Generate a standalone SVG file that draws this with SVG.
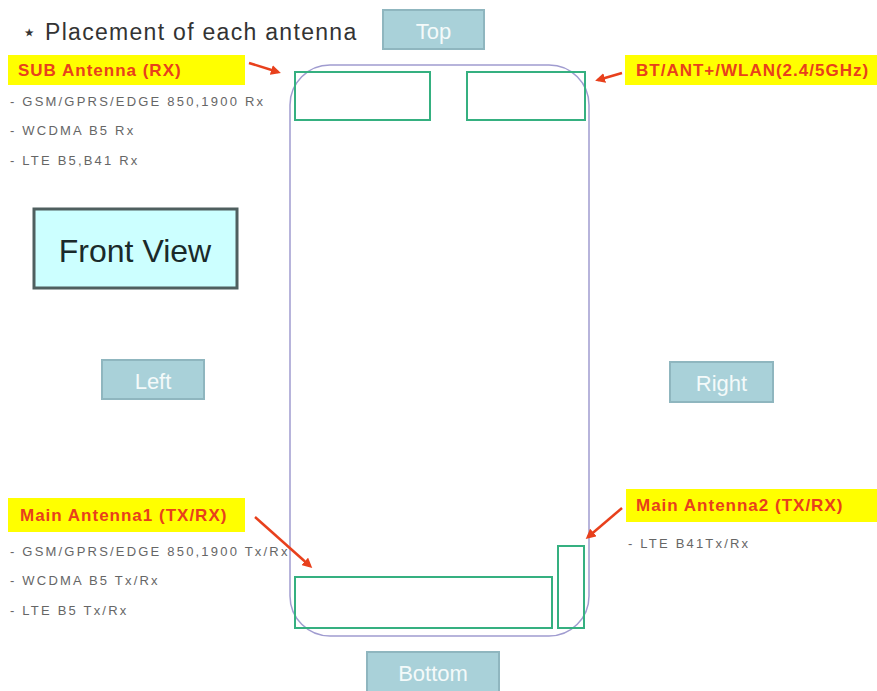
<svg xmlns="http://www.w3.org/2000/svg" width="877" height="691" viewBox="0 0 877 691">
<defs>
<marker id="ah" markerWidth="10" markerHeight="10" refX="7" refY="5" orient="auto" markerUnits="userSpaceOnUse">
<path d="M0,0 L10,5 L0,10 z" fill="#e8401c"/>
</marker>
</defs>
<style>
.side{fill:#a9d1d9;stroke:#8fb6bf;stroke-width:2}
.sidet{font-family:"Liberation Sans",Arial,sans-serif;font-size:22px;fill:#f4fafa;text-anchor:middle}
.ant{fill:none;stroke:#35b080;stroke-width:2}
.lab{fill:#ffff00}
.labt{font-family:"Liberation Sans",Arial,sans-serif;font-size:17px;font-weight:bold;fill:#e8401c;letter-spacing:1px}
.sm{font-family:"Liberation Sans",Arial,sans-serif;font-size:13px;fill:#666666;letter-spacing:2.2px}
.arr{stroke:#e8401c;stroke-width:2.5;fill:none;marker-end:url(#ah)}
</style>
<rect width="877" height="691" fill="#ffffff"/>
<text x="22" y="40" font-family="Liberation Sans,Arial,sans-serif" font-size="23" fill="#333333" letter-spacing="1.3">⋆ Placement of each antenna</text>
<g id="phone">
<rect x="290" y="65" width="299" height="571" rx="40" ry="40" fill="none" stroke="#a09cd0" stroke-width="1.5"/>
</g>
<g id="ant-sub"><rect class="ant" x="295" y="72" width="135" height="48"/></g>
<g id="ant-bt"><rect class="ant" x="467" y="72" width="118" height="48"/></g>
<g id="ant-main1"><rect class="ant" x="295" y="577" width="257" height="51"/></g>
<g id="ant-main2"><rect class="ant" x="558" y="546" width="26" height="82"/></g>
<g id="top"><rect class="side" x="383" y="10" width="101" height="39"/><text class="sidet" x="433.5" y="39">Top</text></g>
<g id="left"><rect class="side" x="102" y="360" width="102" height="39"/><text class="sidet" x="153" y="389">Left</text></g>
<g id="right"><rect class="side" x="670" y="362" width="103" height="40"/><text class="sidet" x="721.5" y="391">Right</text></g>
<g id="bottom"><rect class="side" x="367" y="652" width="132" height="42"/><text class="sidet" x="433" y="681">Bottom</text></g>
<g id="front-view">
<rect x="34" y="209" width="203" height="79" fill="#ccffff" stroke="#4f5f5f" stroke-width="3"/>
<text x="135" y="262" font-family="Liberation Sans,Arial,sans-serif" font-size="32" fill="#1a2a2a" text-anchor="middle">Front View</text>
</g>
<g id="sub-label">
<rect class="lab" x="8" y="55" width="237" height="30"/>
<text class="labt" x="18" y="76">SUB Antenna (RX)</text>
<text class="sm" x="10" y="106">- GSM/GPRS/EDGE 850,1900 Rx</text>
<text class="sm" x="10" y="135">-  WCDMA B5 Rx</text>
<text class="sm" x="10" y="165">- LTE B5,B41 Rx</text>
</g>
<g id="bt-label">
<rect class="lab" x="625" y="55" width="252" height="30"/>
<text class="labt" x="636" y="76">BT/ANT+/WLAN(2.4/5GHz)</text>
</g>
<g id="main1-label">
<rect class="lab" x="8" y="498" width="237" height="34"/>
<text class="labt" x="20" y="521">Main Antenna1 (TX/RX)</text>
<text class="sm" x="10" y="556">- GSM/GPRS/EDGE 850,1900 Tx/Rx</text>
<text class="sm" x="10" y="585">- WCDMA B5 Tx/Rx</text>
<text class="sm" x="10" y="615">- LTE B5 Tx/Rx</text>
</g>
<g id="main2-label">
<rect class="lab" x="626" y="489" width="251" height="33"/>
<text class="labt" x="636" y="511">Main Antenna2 (TX/RX)</text>
<text class="sm" x="628" y="548">- LTE B41Tx/Rx</text>
</g>
<g id="connectors">
<line class="arr" x1="249" y1="63" x2="278" y2="72"/>
<line class="arr" x1="622" y1="73" x2="598" y2="80"/>
<line class="arr" x1="255" y1="517" x2="310" y2="566"/>
<line class="arr" x1="622" y1="508" x2="588" y2="537"/>
</g>
</svg>
